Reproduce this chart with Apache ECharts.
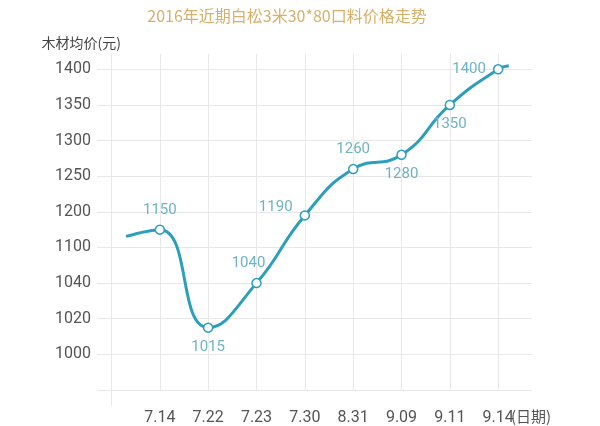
<!DOCTYPE html>
<html>
<head>
<meta charset="utf-8">
<script src="https://cdn.jsdelivr.net/npm/echarts@6/dist/echarts.min.js"></script>
<style>html,body{margin:0;padding:0;background:#fff;}#c{width:600px;height:426px;}</style>
</head>
<body>
<div id="c"></div>
<script>
// ---- data ----
const titleText = '2016年近期白松3米30*80口料价格走势';
const yAxisName = '木材均价(元)';
const xAxisName = '(日期)';
const categories = ['7.14', '7.22', '7.23', '7.30', '8.31', '9.09', '9.11', '9.14'];
const prices = [1150, 1015, 1040, 1190, 1260, 1280, 1350, 1400];
// y tick labels as drawn (equally spaced on the chart, bottom row unlabeled)
const yTickLabels = ['', '1000', '1020', '1040', '1100', '1200', '1250', '1300', '1350', '1400'];
// unlabeled ends of the curve: [category position, price]
const curveStart = [0.3, 1131];
const curveEnd = [8.22, 1405];

// ---- styling helpers (not data) ----
const labelPlacement = ['top', 'bottom', 'top', 'left', 'top', 'bottom', 'bottom', 'left'];
const labelOffsets = [[0, 0], [0, 0], [-8, 0], [0, -8], [0, 0], [0, 0], [0, 0], [0, 0]];

// piecewise mapping of a price to the drawn y-axis position
const tickVals = yTickLabels.slice(1).map(Number); // 1000..1400 at positions 1..9
function yPos(v) {
  for (let i = 0; i < tickVals.length - 1; i++) {
    const a = tickVals[i], b = tickVals[i + 1];
    if (v <= b || i === tickVals.length - 2) {
      return (i + 1) + (v - a) / (b - a);
    }
  }
}

const seriesData = [];
seriesData.push({ value: [curveStart[0], yPos(curveStart[1])], symbol: 'none', label: { show: false } });
prices.forEach((p, i) => {
  seriesData.push({
    value: [i + 1, yPos(p)],
    label: { show: true, position: labelPlacement[i], offset: labelOffsets[i], formatter: String(p) }
  });
});
seriesData.push({ value: [curveEnd[0], yPos(curveEnd[1])], symbol: 'none', label: { show: false } });

const gridLineColor = '#e8e8e8';
const chart = echarts.init(document.getElementById('c'), null, { renderer: 'canvas' });
chart.setOption({
  backgroundColor: '#ffffff',
  animation: false,
  title: {
    text: titleText,
    left: 282, top: 3,
    textAlign: 'center',
    textStyle: { color: '#d7b06a', fontSize: 16, fontWeight: 'normal', fontFamily: '"Noto Sans CJK SC", sans-serif' }
  },
  grid: { left: 97, right: 68, top: 54, bottom: 35 },
  xAxis: [{
    type: 'value',
    min: -0.3, max: 8.7,
    name: xAxisName,
    nameLocation: 'end',
    nameGap: -21,
    nameMoveOverlap: false,
    nameTextStyle: { color: '#555', fontSize: 15, align: 'left', verticalAlign: 'top', padding: [19, 0, 0, 0], fontFamily: '"Noto Sans CJK SC", sans-serif' },
    axisLine: { show: false },
    axisTick: { show: false, customValues: [0, 1, 2, 3, 4, 5, 6, 7, 8] },
    axisLabel: {
      customValues: [1, 2, 3, 4, 5, 6, 7, 8],
      formatter: v => categories[Math.round(v) - 1] || '',
      color: '#555', fontSize: 16, margin: 20, fontFamily: 'Roboto, sans-serif'
    },
    splitLine: { show: true, lineStyle: { color: gridLineColor, width: 1 } }
  }, {
    type: 'value',
    min: -0.3, max: 8.7,
    position: 'bottom',
    axisLine: { show: false },
    axisTick: { show: true, customValues: [0], length: 16, inside: false, lineStyle: { color: gridLineColor } },
    axisLabel: { show: false },
    splitLine: { show: false }
  }],
  yAxis: {
    type: 'value',
    min: 0, max: 9.43,
    name: yAxisName,
    nameLocation: 'end',
    nameGap: 4,
    nameTextStyle: { color: '#444', fontSize: 14, align: 'left', padding: [0, 0, 0, -70], fontFamily: '"Noto Sans CJK SC", sans-serif' },
    axisLine: { show: false },
    axisTick: { show: false, customValues: [0, 1, 2, 3, 4, 5, 6, 7, 8, 9] },
    axisLabel: {
      customValues: [1, 2, 3, 4, 5, 6, 7, 8, 9],
      formatter: v => yTickLabels[Math.round(v)] || '',
      color: '#555', fontSize: 16, margin: 6, fontFamily: 'Roboto, sans-serif'
    },
    splitLine: { show: true, lineStyle: { color: gridLineColor, width: 1 } }
  },
  series: [{
    type: 'line',
    xAxisIndex: 0,
    data: seriesData,
    smooth: 0.5,
    symbol: 'circle',
    symbolSize: 9,
    itemStyle: { color: '#ffffff', borderColor: '#2c9fbd', borderWidth: 1.5 },
    lineStyle: { color: '#2c9fbd', width: 3 },
    label: { color: '#6fb3c4', fontSize: 15, fontFamily: 'Roboto, sans-serif', distance: 7 },
    z: 3
  }]
});
</script>
</body>
</html>
